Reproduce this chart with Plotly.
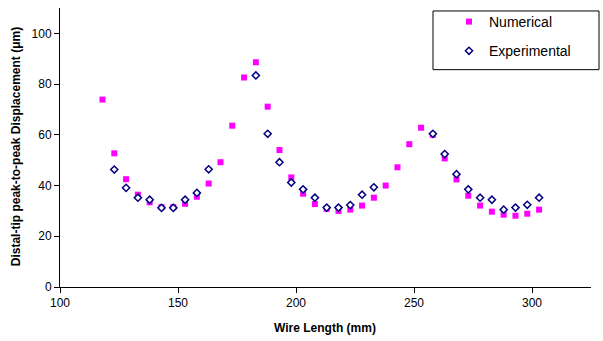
import plotly.graph_objects as go

num_x = [118, 123, 128, 133, 138, 143, 148, 153, 158, 163, 168, 173, 178, 183, 188,
         193, 198, 203, 208, 213, 218, 223, 228, 233, 238, 243, 248, 253, 258, 263,
         268, 273, 278, 283, 288, 293, 298, 303]
num_y = [73.9, 52.7, 42.5, 36.4, 33.4, 31.5, 31.5, 32.8, 35.6, 40.8, 49.2, 63.6, 82.6, 88.6, 71.1,
         54.0, 43.2, 36.8, 32.7, 30.8, 30.0, 30.5, 32.1, 35.2, 40.0, 47.2, 56.3, 62.8, 60.0, 50.7,
         42.4, 36.0, 32.1, 29.7, 28.5, 28.1, 28.9, 30.5]

exp_x = [123, 128, 133, 138, 143, 148, 153, 158, 163, 183, 188, 193, 198, 203, 208,
         213, 218, 223, 228, 233, 258, 263, 268, 273, 278, 283, 288, 293, 298, 303]
exp_y = [46.3, 39.1, 35.2, 34.4, 31.2, 31.2, 34.4, 37.1, 46.4, 83.4, 60.4, 49.2, 41.2, 38.5, 35.2,
         31.3, 31.3, 32.3, 36.4, 39.3, 60.4, 52.4, 44.5, 38.5, 35.2, 34.4, 30.5, 31.3, 32.4, 35.2]

x_ticks = [100, 150, 200, 250, 300]
y_ticks = [0, 20, 40, 60, 80, 100]

W, H = 603, 341
L, R, T, B = 60, 12, 7, 53.5
pw, ph = W - L - R, H - T - B

def px_x(p):
    return (p - L) / pw

def px_y(p):
    return (H - B - p) / ph

fig = go.Figure()
fig.add_trace(go.Scatter(
    x=num_x, y=num_y, mode="markers", name="Numerical", legendgroup="a",
    marker=dict(symbol="square", size=6, color="#FF00FF", line=dict(width=0)),
))
fig.add_trace(go.Scatter(
    x=exp_x, y=exp_y, mode="markers", name="Experimental", legendgroup="b",
    marker=dict(symbol="diamond", size=5.5, color="white", line=dict(width=1.5, color="#000080")),
))

font = "Liberation Sans, Arial, sans-serif"
fig.update_layout(
    width=W, height=H,
    margin=dict(l=L, r=R, t=T, b=B, pad=0),
    paper_bgcolor="white", plot_bgcolor="white",
    font=dict(family=font, size=12, color="#000000"),
    showlegend=True,
    legend=dict(
        x=px_x(449), y=px_y(6), xanchor="left", yanchor="top",
        borderwidth=0, bgcolor="rgba(0,0,0,0)",
        font=dict(family=font, size=14, color="#000000"),
        tracegroupgap=8,
    ),
    xaxis=dict(
        range=[100, 325], tickvals=x_ticks, ticktext=[str(v) for v in x_ticks],
        showline=True, linecolor="#000000", linewidth=1,
        ticks="outside", ticklen=5, tickcolor="#000000",
        showgrid=False, zeroline=False, automargin=False,
        tickfont=dict(size=12),
    ),
    yaxis=dict(
        range=[0, 110], tickvals=y_ticks, ticktext=[str(v) for v in y_ticks],
        showline=True, linecolor="#000000", linewidth=1,
        ticks="outside", ticklen=5, tickcolor="#000000",
        showgrid=False, zeroline=False, automargin=False,
        tickfont=dict(size=12),
    ),
    shapes=[dict(
        type="rect", xref="paper", yref="paper",
        x0=px_x(433), x1=px_x(599), y0=px_y(69), y1=px_y(10),
        line=dict(color="#000000", width=1), fillcolor="rgba(0,0,0,0)", layer="above",
    )],
    annotations=[
        dict(text="<b>Distal-tip peak-to-peak Displacement (μm)</b>", xref="paper", yref="paper",
             x=px_x(16), y=px_y(147), xanchor="center", yanchor="middle", textangle=-90,
             showarrow=False, font=dict(size=12)),
        dict(text="<b>Wire Length (mm)</b>", xref="paper", yref="paper",
             x=px_x(325), y=px_y(329), xanchor="center", yanchor="middle",
             showarrow=False, font=dict(size=12)),
    ],
)

fig.write_html("out.html",
               config={"displayModeBar": False},
               post_script="document.body.style.margin='0';document.body.style.overflow='hidden';")
